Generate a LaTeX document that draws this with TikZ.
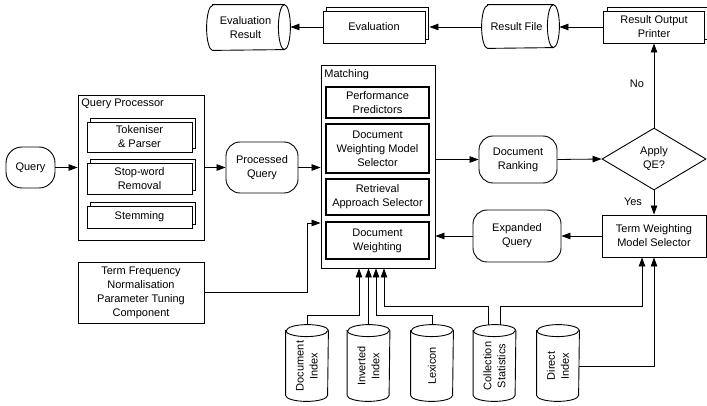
\documentclass[tikz,border=0pt]{standalone}
\usepackage{fontspec}
\setmainfont{Liberation Sans}
\usetikzlibrary{arrows.meta,shapes.geometric,shadows}
% horizontal cylinder around node #1, half height #2
\newcommand\hcylinder[2]{%
  \draw[line width=0.9pt] ([xshift=6pt]#1.north west) -- ([xshift=-6pt]#1.north east)
    arc[start angle=90,end angle=-90,x radius=6pt,y radius=#2]
    -- ([xshift=6pt]#1.south west)
    arc[start angle=270,end angle=90,x radius=6pt,y radius=#2] -- cycle;
  \draw[line width=0.9pt] ([xshift=-6pt]#1.north east)
    arc[start angle=90,end angle=270,x radius=6pt,y radius=#2];}
% vertical cylinder around node #1, half width #2
\newcommand\vcylinder[2]{%
  \draw[line width=0.9pt] ([yshift=-6pt]#1.north west) -- ([yshift=6pt]#1.south west)
    arc[start angle=180,end angle=360,x radius=#2,y radius=6pt]
    -- ([yshift=-6pt]#1.north east)
    arc[start angle=0,end angle=180,x radius=#2,y radius=6pt] -- cycle;
  \draw[line width=0.9pt] ([yshift=-6pt]#1.north west)
    arc[start angle=180,end angle=360,x radius=#2,y radius=6pt];}
\begin{document}
\begin{tikzpicture}[x=1pt,y=-1pt,line width=0.8pt,
  every node/.style={font=\fontsize{11}{14}\selectfont,inner sep=1pt,align=center},
  box/.style={draw,fill=white,line width=0.9pt},
  innerbox/.style={draw,fill=white,line width=1.2pt},
  stackbox/.style={box,copy shadow={shadow xshift=3.5pt,shadow yshift=3.5pt}},
  term/.style={draw,rounded corners=14pt,line width=0.9pt},
  arr/.style={-{Triangle[length=9pt,width=6.5pt]}}]
\useasboundingbox (0,0) rectangle (707,406);

% ---- top row
\node[minimum width=83pt,minimum height=45pt,inner sep=0] (evalres) at (248.5,27.5) {};
\hcylinder{evalres}{22.5pt}
\node (evalrest) at ([xshift=-3pt]evalres.center) {Evaluation\\Result};
\node[stackbox,minimum width=102pt,minimum height=32pt] (eval) at (374,27) {Evaluation};
\node[minimum width=77pt,minimum height=43pt,inner sep=0] (resfile) at (520.5,26.5) {};
\hcylinder{resfile}{21.5pt}
\node (resfilet) at ([xshift=-4pt]resfile.center) {Result File};
\node[stackbox,minimum width=101pt,minimum height=32pt] (printer) at (654,27) {Result Output\\Printer};

% ---- query processor
\node[term,rounded corners=16pt,minimum width=49pt,minimum height=41pt] (query) at (30.5,167.5) {Query};
\node[draw,line width=0.9pt,minimum width=126pt,minimum height=145pt] (qp) at (141,167.5) {};
\node[anchor=west] (qplabel) at (80,104) {Query Processor};
\node[stackbox,minimum width=105pt,minimum height=30pt] (tok) at (139.5,137) {Tokeniser\\\& Parser};
\node[stackbox,minimum width=105pt,minimum height=31pt] (stop) at (139.5,178.5) {Stop-word\\Removal};
\node[stackbox,minimum width=105pt,minimum height=22pt] (stem) at (139.5,217) {Stemming};
\node[term,minimum width=72pt,minimum height=51pt] (pq) at (262,167.5) {Processed\\Query};

% ---- matching
\node[draw,line width=0.9pt,minimum width=114pt,minimum height=203pt] (match) at (378,166.5) {};
\node[anchor=west] (matchlabel) at (323,75) {Matching};
\node[innerbox,minimum width=103pt,minimum height=31pt] (perf) at (377.5,102.5) {Performance\\Predictors};
\node[innerbox,minimum width=103pt,minimum height=49pt] (dwms) at (377.5,148.5) {Document\\Weighting Model\\Selector};
\node[innerbox,minimum width=103pt,minimum height=36pt] (ras) at (377.5,197) {Retrieval\\Approach Selector};
\node[innerbox,minimum width=103pt,minimum height=37pt] (dw) at (377.5,240.5) {Document\\Weighting};

\node[box,minimum width=126pt,minimum height=61pt] (tf) at (141,292.5) {Term Frequency\\Normalisation\\Parameter Tuning\\Component};

% ---- right side
\node[term,minimum width=78pt,minimum height=47pt] (dr) at (518,159.5) {Document\\Ranking};
\node[diamond,draw,line width=0.9pt,minimum width=104pt,minimum height=62pt,inner sep=0,aspect=1.68] (qe) at (654,159) {Apply\\QE?};
\node[box,minimum width=104pt,minimum height=42pt] (tw) at (654,236) {Term Weighting\\Model Selector};
\node[term,minimum width=88pt,minimum height=52pt] (eq) at (517,236) {Expanded\\Query};
\node (nolabel) at (637,84) {No};
\node (yeslabel) at (633,202) {Yes};

% ---- data structures
\node[minimum width=42pt,minimum height=76pt,inner sep=0] (di) at (307,363) {};
\vcylinder{di}{21pt}
\node[rotate=90] (dit) at ([yshift=-3pt]di.center) {Document\\Index};
\node[minimum width=42pt,minimum height=76pt,inner sep=0] (inv) at (368.5,363) {};
\vcylinder{inv}{21pt}
\node[rotate=90] (invt) at ([yshift=-3pt]inv.center) {Inverted\\Index};
\node[minimum width=42pt,minimum height=76pt,inner sep=0] (lex) at (432,363) {};
\vcylinder{lex}{21pt}
\node[rotate=90] (lext) at ([yshift=-3pt]lex.center) {Lexicon};
\node[minimum width=42pt,minimum height=76pt,inner sep=0] (cs) at (494.5,363) {};
\vcylinder{cs}{21pt}
\node[rotate=90] (cst) at ([yshift=-3pt]cs.center) {Collection\\Statistics};
\node[minimum width=42pt,minimum height=76pt,inner sep=0] (dix) at (558,363) {};
\vcylinder{dix}{21pt}
\node[rotate=90] (dixt) at ([yshift=-3pt]dix.center) {Direct\\Index};

% ---- connectors
\draw[arr] (printer.west) -- (printer.west -| resfile.east);
\draw[arr] (resfile.west |- eval.east) -- ([xshift=4pt]eval.east);
\draw[arr] (eval.west) -- (eval.west -| evalres.east);
\draw[arr] (query) -- (qp);
\draw[arr] (qp) -- (pq);
\draw[arr] (pq.east) -- (pq.east -| match.west);
\coordinate (tfj) at (307,223);
\draw[arr] (tf.east) -| (tfj) -- (tfj -| match.west);
\draw[arr] (match.east |- dr.west) -- (dr.west);
\draw[arr] (dr.east) -- (qe.west);
\draw[arr] (qe.north) -- (printer.south);
\draw[arr] (qe.south) -- (tw.north);
\draw[arr] (tw.west) -- (eq.east);
\draw[arr] (eq.west) -- (eq.west -| match.east);
\coordinate (m1) at ([xshift=-19pt]match.south);
\coordinate (m3) at ([xshift=-2pt]match.south);
\coordinate (m4) at ([xshift=6pt]match.south);
\draw[arr] (di.north) -- ++(0,-9) -| (m1);
\draw[arr] (inv.north) -- (inv.north |- match.south);
\draw[arr] (lex.north) -- ++(0,-9) -| (m3);
\draw[arr] ([xshift=-6pt]cs.north) -- ++(0,-18) -| (m4);
\draw[arr] ([xshift=6pt]cs.north) -- ++(0,-18) -| ([xshift=-12pt]tw.south);
\draw[arr] ([yshift=-3pt]dix.east) -| (tw.south);
\end{tikzpicture}
\end{document}
